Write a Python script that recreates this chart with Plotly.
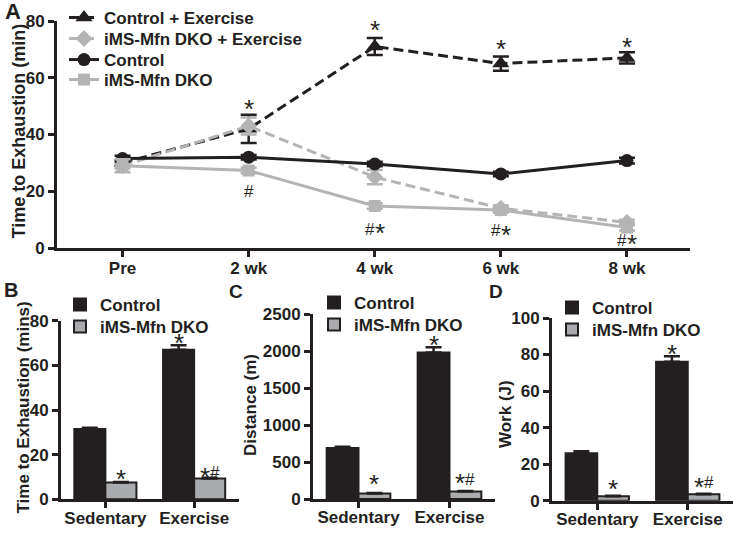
import plotly.graph_objects as go

# ---------------- data ----------------
weeks = ["Pre", "2 wk", "4 wk", "6 wk", "8 wk"]
ctrl_ex = [30, 42, 71, 65, 67]
ctrl_ex_err = [1, 5, 3, 2.5, 2]
dko_ex = [29, 43, 25, 14, 9]
dko_ex_err = [1, 3, 2.5, 1, 1]
ctrl = [31.5, 32, 29.6, 26.1, 30.8]
ctrl_err = [1, 0.8, 0.8, 0.8, 1]
dko = [29, 27.3, 14.8, 13.4, 7.2]
dko_err = [2.3, 1, 1, 1, 1]

groups = ["Sedentary", "Exercise"]
tte_ctrl = [31.5, 67]
tte_ctrl_err = [0.5, 2]
tte_dko = [7.5, 9.3]
tte_dko_err = [0.3, 0.4]
dist_ctrl = [690, 1980]
dist_ctrl_err = [15, 70]
dist_dko = [75, 100]
dist_dko_err = [5, 8]
work_ctrl = [26, 76]
work_ctrl_err = [1, 3]
work_dko = [2.5, 3.5]
work_dko_err = [0.2, 0.3]

# significance marks (text, x, y)
marks_a = [("*", "2 wk", 51.1), ("*", "4 wk", 78.9), ("*", "6 wk", 72.1), ("*", "8 wk", 73.1),
           ("#", "2 wk", 19.8), ("#*", "4 wk", 6.6), ("#*", "6 wk", 6.1), ("#*", "8 wk", 2.8)]
marks_b = [("*", 0.175, 11.8), ("*", 0.825, 72.8), ("*#", 1.175, 11.9)]
marks_c = [("*", 0.175, 284), ("*", 0.825, 2158), ("*#", 1.175, 270)]
marks_d = [("*", 0.175, 9.9), ("*", 0.825, 83.4), ("*#", 1.175, 9.7)]

DARK = "#231f20"
LGRAY = "#b4b4b4"
BGRAY = "#a9abae"
FONT = "Liberation Sans, Arial, sans-serif"
W, H = 734, 533


def px(x):
    return x / W


def py(y):
    return 1 - y / H


fig = go.Figure()

# ---------------- panel A ----------------
DASH = "10px,5px"
line_specs = [
    ("Control + Exercise", ctrl_ex, ctrl_ex_err, DARK, DASH, "triangle-up", 15, "legend", 0),
    ("iMS-Mfn DKO + Exercise", dko_ex, dko_ex_err, LGRAY, DASH, "diamond", 13, "legend5", 21),
    ("Control", ctrl, ctrl_err, DARK, "solid", "circle", 13, "legend6", 42),
    ("iMS-Mfn DKO", dko, dko_err, LGRAY, "solid", "square", 12, "legend7", 62),
]
for name, vals, errs, col, dash, sym, size, lg, _ in line_specs:
    fig.add_trace(go.Scatter(
        x=weeks, y=vals, name=name, mode="lines+markers",
        line=dict(color=col, width=3, dash=dash),
        marker=dict(symbol=sym, size=size, color=col),
        error_y=dict(type="data", array=errs, color=col, thickness=2.5, width=8),
        xaxis="x", yaxis="y", legend=lg))

# ---------------- bar panels ----------------
bar_sets = [
    ("x2", "y2", ("legend2", "legend8"), tte_ctrl, tte_ctrl_err, tte_dko, tte_dko_err),
    ("x3", "y3", ("legend3", "legend9"), dist_ctrl, dist_ctrl_err, dist_dko, dist_dko_err),
    ("x4", "y4", ("legend4", "legend10"), work_ctrl, work_ctrl_err, work_dko, work_dko_err),
]
for xa, ya, lgs, cv, ce, dv, de in bar_sets:
    fig.add_trace(go.Bar(
        x=groups, y=cv, name="Control", marker=dict(color=DARK, line=dict(color=DARK, width=2)),
        error_y=dict(type="data", array=ce, arrayminus=[0, 0], symmetric=False,
                     color=DARK, thickness=2.5, width=8),
        xaxis=xa, yaxis=ya, legend=lgs[0]))
    fig.add_trace(go.Bar(
        x=groups, y=dv, name="iMS-Mfn DKO", marker=dict(color=BGRAY, line=dict(color=DARK, width=2)),
        error_y=dict(type="data", array=de, arrayminus=[0, 0], symmetric=False,
                     color=DARK, thickness=2.5, width=8),
        xaxis=xa, yaxis=ya, legend=lgs[1]))

axis_common = dict(
    showline=True, linecolor=DARK, linewidth=3, ticks="outside", ticklen=6,
    tickwidth=3, tickcolor=DARK, showgrid=False, zeroline=False, automargin=False,
    tickfont=dict(family=FONT, size=17, color=DARK, weight="bold"),
)

layout = dict(
    width=W, height=H, autosize=False, showlegend=True,
    margin=dict(l=0, r=0, t=0, b=0, autoexpand=False),
    paper_bgcolor="white", plot_bgcolor="white",
    barmode="group", bargap=0.3, bargroupgap=0,
    font=dict(family=FONT, color=DARK),
    xaxis=dict(domain=[px(57), px(690)], range=[-0.52, 4.5], anchor="y",
               ticklabelstandoff=-3, **axis_common),
    yaxis=dict(domain=[py(248), py(21)], range=[0, 80], dtick=20, anchor="x", **axis_common),
    xaxis2=dict(domain=[px(61), px(238.5)], range=[-0.5, 1.5], anchor="y2",
                ticklabelstandoff=-5, **axis_common),
    yaxis2=dict(domain=[py(499.3), py(320.7)], range=[0, 80], dtick=20, anchor="x2", **axis_common),
    xaxis3=dict(domain=[px(313), px(495)], range=[-0.5, 1.5], anchor="y3",
                ticklabelstandoff=-5, **axis_common),
    yaxis3=dict(domain=[py(499), py(314)], range=[0, 2500], dtick=500, anchor="x3", **axis_common),
    xaxis4=dict(domain=[px(552), px(733)], range=[-0.5, 1.5], anchor="y4",
                ticklabelstandoff=-5, **axis_common),
    yaxis4=dict(domain=[py(500.7), py(318)], range=[0, 100], dtick=20, anchor="x4", **axis_common),
)
leg_font = dict(family=FONT, size=17, color=DARK, weight="bold")


def legend_at(x, y):
    return dict(x=px(x), y=py(y), xanchor="left", yanchor="top", visible=True,
                bgcolor="rgba(0,0,0,0)", font=leg_font)


for name, vals, errs, col, dash, sym, size, lg, top in line_specs:
    layout[lg] = legend_at(64, top)
layout["legend2"] = legend_at(60, 287)
layout["legend8"] = legend_at(60, 309)
layout["legend3"] = legend_at(314, 285)
layout["legend9"] = legend_at(314, 307)
layout["legend4"] = legend_at(552, 290)
layout["legend10"] = legend_at(552, 312)
fig.update_layout(**layout)

annotations = []
hash_font = dict(family=FONT, size=17, color=DARK)
star_font = dict(family=FONT, size=26, color=DARK)


def add_mark(text, x, y, xr, yr):
    if len(text) == 1:
        shifts = [(text, 0)]
    else:
        shifts = [(text[0], -5), (text[1], 5)]
    for ch, xs in shifts:
        if ch == "*":
            ys = -6 if len(text) == 1 else -4
            f = star_font
        else:
            ys = 0
            f = hash_font
        annotations.append(dict(text=ch, x=x, y=y, xref=xr, yref=yr, showarrow=False,
                                font=f, xanchor="center", yanchor="middle",
                                xshift=xs, yshift=ys))


for marks, xr, yr in [(marks_a, "x", "y"), (marks_b, "x2", "y2"),
                      (marks_c, "x3", "y3"), (marks_d, "x4", "y4")]:
    for t, x, y in marks:
        add_mark(t, x, y, xr, yr)

# axis titles (rotated)
axis_titles = [("Time to Exhaustion (min)", 18.5, 131, 18),
               ("Time to Exhaustion (mins)", 22.5, 408, 17),
               ("Distance (m)", 250, 405, 17),
               ("Work (J)", 505, 414, 17)]
for t, x, y, s in axis_titles:
    annotations.append(dict(text=t, x=px(x), y=py(y), xref="paper", yref="paper",
                            showarrow=False, xanchor="center", yanchor="middle", textangle=-90,
                            font=dict(family=FONT, size=s, color=DARK, weight="bold")))

panel_labels = [("A", 13, 12, 22), ("B", 11, 290, 20), ("C", 236, 291, 19), ("D", 496, 291, 19)]
for t, x, y, s in panel_labels:
    annotations.append(dict(text=t, x=px(x), y=py(y), xref="paper", yref="paper",
                            showarrow=False, xanchor="center", yanchor="middle",
                            font=dict(family=FONT, size=s, color=DARK, weight="bold")))
fig.update_layout(annotations=annotations)

fig.write_html("out.html", config={"displayModeBar": False},
               post_script="document.body.style.margin='0';")
